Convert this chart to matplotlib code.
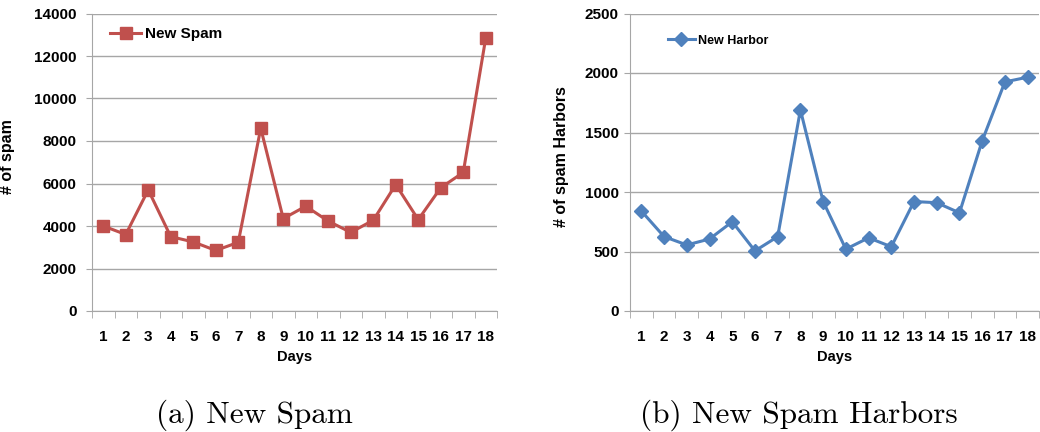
import matplotlib
matplotlib.use("Agg")
import matplotlib.pyplot as plt
from matplotlib.ticker import MultipleLocator

days = list(range(1, 19))
new_spam = [4000, 3600, 5700, 3500, 3250, 2850, 3230, 8600, 4350, 4930,
            4230, 3700, 4270, 5950, 4300, 5800, 6520, 12850]
new_harbors = [840, 625, 555, 605, 750, 505, 625, 1690, 920, 520,
               615, 540, 920, 910, 825, 1430, 1925, 1965]

RED = "#C0504D"
BLUE = "#4F81BD"
GRID = "#A6A6A6"
SANS = ["Liberation Sans", "DejaVu Sans"]

plt.rcParams["font.family"] = SANS
plt.rcParams["font.weight"] = "bold"


def style_axis(ax, ymax, ystep, ypad):
    ax.set_xlim(0.5, 18.5)
    ax.set_ylim(0, ymax)
    ax.yaxis.set_major_locator(MultipleLocator(ystep))
    ax.set_xticks(days)
    ax.set_xticks([d + 0.5 for d in range(0, 19)], minor=True)
    ax.tick_params(axis="x", which="major", length=0, pad=14, labelsize=11)
    ax.tick_params(axis="x", which="minor", length=5, color=GRID, direction="out")
    ax.tick_params(axis="y", length=4, color=GRID, labelsize=11, pad=ypad)
    for lbl in ax.get_xticklabels() + ax.get_yticklabels():
        lbl.set_fontweight("bold")
    ax.grid(axis="y", color=GRID, lw=1)
    ax.set_axisbelow(True)
    for side in ("top", "right"):
        ax.spines[side].set_visible(False)
    for side in ("left", "bottom"):
        ax.spines[side].set_color(GRID)
    ax.set_xlabel("Days", fontsize=10.5, fontweight="bold", labelpad=4)


fig = plt.figure(figsize=(10.4, 4.32), dpi=100)

ax1 = fig.add_axes([92 / 1040, 1 - 311 / 432, 405 / 1040, 297.5 / 432])
ax1.plot(days, new_spam, color=RED, lw=2.2, marker="s", ms=8, label="New Spam")
style_axis(ax1, 14000, 2000, 7)
ax1.set_ylabel("# of spam", fontsize=11.5, fontweight="bold")
ax1.yaxis.set_label_coords(-0.19, 0.52)
ax1.legend(loc="upper left", bbox_to_anchor=(0.03, 0.975), frameon=False,
           handlelength=2.0, handletextpad=0.3, borderaxespad=0,
           prop={"family": SANS, "weight": "bold", "size": 11})

ax2 = fig.add_axes([630 / 1040, 1 - 311 / 432, 409 / 1040, 297.5 / 432])
ax2.plot(days, new_harbors, color=BLUE, lw=2.2, marker="D", ms=7, label="New Harbor")
style_axis(ax2, 2500, 500, 4)
ax2.set_ylabel("# of spam Harbors", fontsize=11.5, fontweight="bold")
ax2.yaxis.set_label_coords(-0.15, 0.52)
ax2.legend(loc="upper left", bbox_to_anchor=(0.08, 0.945), frameon=False,
           handlelength=2.2, handletextpad=0.2, borderaxespad=0,
           prop={"family": SANS, "weight": "bold", "size": 9})

fig.text(254 / 1040, 1 - 415 / 432, "(a) New Spam", family="cmr10",
         fontsize=22.5, fontweight="normal", ha="center", va="center")
fig.text(799 / 1040, 1 - 415 / 432, "(b) New Spam Harbors", family="cmr10",
         fontsize=22.5, fontweight="normal", ha="center", va="center")

fig.savefig("out.png", dpi=100)
